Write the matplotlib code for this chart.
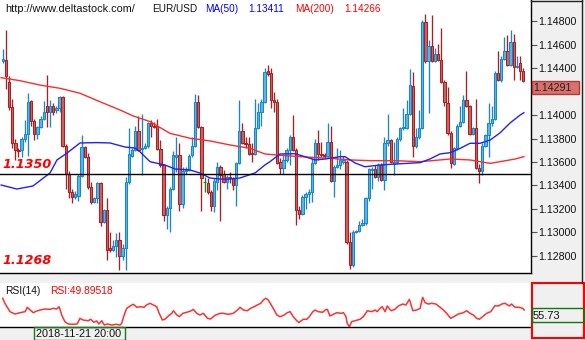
# -*- coding: utf-8 -*-
# EUR/USD H4 candles with MA(50), MA(200) and RSI(14) panel

import numpy as np
import matplotlib.pyplot as plt
import matplotlib.transforms as mtransforms
from matplotlib.patches import Rectangle
from matplotlib.lines import Line2D

plt.rcParams['font.family'] = ['Liberation Sans', 'DejaVu Sans']

# ------------------------------------------------------
# data

opens = [1.1446, 1.1447, 1.1428, 1.1407, 1.1376, 1.1370, 1.1370, 1.1380, 1.1384, 1.1412,
         1.1395, 1.1384, 1.1390, 1.1397, 1.1408, 1.1403, 1.1408, 1.1404, 1.1406, 1.1415,
         1.1374, 1.1350, 1.1334, 1.1330, 1.1331, 1.1348, 1.1373, 1.1364, 1.1339, 1.1326,
         1.1329, 1.1342, 1.1309, 1.1319, 1.1287, 1.1285, 1.1288, 1.1293, 1.1280, 1.1287,
         1.1343, 1.1365, 1.1370, 1.1386, 1.1371, 1.1372, 1.1374, 1.1393, 1.1391, 1.1391,
         1.1371, 1.1357, 1.1315, 1.1321, 1.1337, 1.1364, 1.1366, 1.1324, 1.1352, 1.1353,
         1.1366, 1.1374, 1.1411, 1.1390, 1.1343, 1.1342, 1.1334, 1.1322, 1.1343, 1.1356,
         1.1350, 1.1343, 1.1347, 1.1346, 1.1340, 1.1359, 1.1386, 1.1376, 1.1375, 1.1368,
         1.1367, 1.1389, 1.1403, 1.1411, 1.1438, 1.1436, 1.1413, 1.1411, 1.1360, 1.1355,
         1.1362, 1.1370, 1.1381, 1.1370, 1.1319, 1.1316, 1.1330, 1.1333, 1.1334, 1.1359,
         1.1376, 1.1367, 1.1366, 1.1365, 1.1377, 1.1344, 1.1356, 1.1357, 1.1360, 1.1360,
         1.1292, 1.1272, 1.1300, 1.1301, 1.1306, 1.1308, 1.1329, 1.1353, 1.1354, 1.1347,
         1.1357, 1.1345, 1.1376, 1.1379, 1.1358, 1.1360, 1.1380, 1.1389, 1.1389, 1.1401,
         1.1425, 1.1374, 1.1381, 1.1389, 1.1479, 1.1446, 1.1459, 1.1446, 1.1452, 1.1447,
         1.1428, 1.1410, 1.1385, 1.1358, 1.1372, 1.1391, 1.1394, 1.1413, 1.1408, 1.1384,
         1.1389, 1.1355, 1.1352, 1.1374, 1.1383, 1.1393, 1.1397, 1.1436, 1.1430, 1.1448,
         1.1455, 1.1443, 1.1462, 1.1441, 1.1444, 1.1438]

highs = [1.1456, 1.1473, 1.1433, 1.1414, 1.1380, 1.1372, 1.1381, 1.1396, 1.1419, 1.1413,
         1.1397, 1.1391, 1.1399, 1.1412, 1.1434, 1.1413, 1.1410, 1.1408, 1.1416, 1.1416,
         1.1375, 1.1352, 1.1337, 1.1335, 1.1350, 1.1383, 1.1374, 1.1368, 1.1343, 1.1330,
         1.1343, 1.1343, 1.1320, 1.1329, 1.1300, 1.1293, 1.1299, 1.1300, 1.1290, 1.1347,
         1.1389, 1.1372, 1.1391, 1.1399, 1.1401, 1.1376, 1.1394, 1.1396, 1.1394, 1.1397,
         1.1379, 1.1358, 1.1322, 1.1339, 1.1369, 1.1381, 1.1376, 1.1356, 1.1356, 1.1367,
         1.1381, 1.1418, 1.1417, 1.1391, 1.1347, 1.1346, 1.1336, 1.1346, 1.1360, 1.1357,
         1.1353, 1.1349, 1.1351, 1.1347, 1.1360, 1.1413, 1.1393, 1.1381, 1.1381, 1.1376,
         1.1414, 1.1410, 1.1414, 1.1440, 1.1443, 1.1440, 1.1420, 1.1414, 1.1363, 1.1367,
         1.1372, 1.1383, 1.1400, 1.1372, 1.1322, 1.1332, 1.1334, 1.1337, 1.1363, 1.1380,
         1.1387, 1.1377, 1.1368, 1.1393, 1.1391, 1.1357, 1.1372, 1.1370, 1.1365, 1.1362,
         1.1300, 1.1302, 1.1302, 1.1310, 1.1311, 1.1330, 1.1355, 1.1356, 1.1357, 1.1359,
         1.1359, 1.1381, 1.1401, 1.1380, 1.1377, 1.1381, 1.1390, 1.1406, 1.1413, 1.1439,
         1.1437, 1.1389, 1.1404, 1.1481, 1.1486, 1.1464, 1.1485, 1.1457, 1.1461, 1.1474,
         1.1430, 1.1424, 1.1386, 1.1373, 1.1392, 1.1408, 1.1417, 1.1438, 1.1409, 1.1390,
         1.1414, 1.1358, 1.1376, 1.1384, 1.1410, 1.1408, 1.1438, 1.1455, 1.1450, 1.1467,
         1.1468, 1.1473, 1.1469, 1.1450, 1.1450, 1.1440]

lows = [1.1444, 1.1422, 1.1404, 1.1372, 1.1362, 1.1364, 1.1364, 1.1377, 1.1365, 1.1391,
        1.1379, 1.1380, 1.1389, 1.1396, 1.1390, 1.1390, 1.1400, 1.1402, 1.1403, 1.1373,
        1.1337, 1.1329, 1.1325, 1.1328, 1.1327, 1.1347, 1.1363, 1.1337, 1.1324, 1.1325,
        1.1325, 1.1305, 1.1308, 1.1276, 1.1283, 1.1284, 1.1279, 1.1268, 1.1276, 1.1268,
        1.1341, 1.1364, 1.1369, 1.1369, 1.1349, 1.1371, 1.1372, 1.1381, 1.1389, 1.1370,
        1.1356, 1.1310, 1.1303, 1.1300, 1.1336, 1.1351, 1.1318, 1.1321, 1.1350, 1.1352,
        1.1364, 1.1373, 1.1389, 1.1318, 1.1334, 1.1333, 1.1318, 1.1317, 1.1336, 1.1310,
        1.1342, 1.1337, 1.1342, 1.1336, 1.1322, 1.1358, 1.1375, 1.1372, 1.1366, 1.1360,
        1.1366, 1.1388, 1.1391, 1.1410, 1.1433, 1.1406, 1.1403, 1.1358, 1.1350, 1.1350,
        1.1360, 1.1357, 1.1369, 1.1306, 1.1311, 1.1315, 1.1320, 1.1325, 1.1326, 1.1358,
        1.1362, 1.1364, 1.1363, 1.1364, 1.1343, 1.1330, 1.1355, 1.1354, 1.1358, 1.1290,
        1.1269, 1.1270, 1.1299, 1.1300, 1.1305, 1.1306, 1.1327, 1.1337, 1.1346, 1.1344,
        1.1344, 1.1336, 1.1374, 1.1359, 1.1349, 1.1358, 1.1378, 1.1387, 1.1388, 1.1400,
        1.1364, 1.1372, 1.1380, 1.1388, 1.1444, 1.1402, 1.1445, 1.1445, 1.1446, 1.1427,
        1.1408, 1.1383, 1.1355, 1.1357, 1.1370, 1.1390, 1.1393, 1.1407, 1.1383, 1.1383,
        1.1354, 1.1342, 1.1349, 1.1373, 1.1364, 1.1391, 1.1396, 1.1429, 1.1428, 1.1447,
        1.1442, 1.1442, 1.1430, 1.1440, 1.1430, 1.1428]

closes = [1.1448, 1.1433, 1.1407, 1.1376, 1.1370, 1.1369, 1.1380, 1.1384, 1.1411, 1.1395,
          1.1384, 1.1390, 1.1397, 1.1403, 1.1403, 1.1408, 1.1403, 1.1406, 1.1415, 1.1374,
          1.1350, 1.1334, 1.1330, 1.1333, 1.1348, 1.1373, 1.1364, 1.1339, 1.1326, 1.1329,
          1.1342, 1.1309, 1.1319, 1.1285, 1.1285, 1.1288, 1.1293, 1.1280, 1.1287, 1.1343,
          1.1367, 1.1370, 1.1386, 1.1370, 1.1372, 1.1374, 1.1393, 1.1391, 1.1390, 1.1371,
          1.1357, 1.1315, 1.1321, 1.1337, 1.1366, 1.1366, 1.1324, 1.1352, 1.1354, 1.1365,
          1.1374, 1.1411, 1.1390, 1.1346, 1.1343, 1.1334, 1.1322, 1.1344, 1.1356, 1.1349,
          1.1343, 1.1347, 1.1346, 1.1340, 1.1359, 1.1386, 1.1376, 1.1375, 1.1367, 1.1367,
          1.1389, 1.1403, 1.1411, 1.1437, 1.1435, 1.1413, 1.1411, 1.1359, 1.1355, 1.1362,
          1.1370, 1.1381, 1.1370, 1.1319, 1.1316, 1.1330, 1.1333, 1.1334, 1.1359, 1.1376,
          1.1367, 1.1366, 1.1365, 1.1377, 1.1344, 1.1356, 1.1357, 1.1362, 1.1362, 1.1292,
          1.1272, 1.1300, 1.1301, 1.1306, 1.1308, 1.1329, 1.1354, 1.1354, 1.1347, 1.1357,
          1.1345, 1.1376, 1.1379, 1.1360, 1.1360, 1.1380, 1.1389, 1.1390, 1.1401, 1.1426,
          1.1374, 1.1381, 1.1389, 1.1479, 1.1446, 1.1459, 1.1446, 1.1452, 1.1447, 1.1428,
          1.1411, 1.1385, 1.1359, 1.1372, 1.1391, 1.1394, 1.1413, 1.1408, 1.1384, 1.1389,
          1.1355, 1.1352, 1.1374, 1.1383, 1.1393, 1.1397, 1.1436, 1.1430, 1.1448, 1.1455,
          1.1443, 1.1462, 1.1441, 1.1442, 1.1438, 1.14291]

# moving averages, read at bar positions
ma50_pos = [-0.5, 4.5, 9.6, 15.0, 17.2, 20.4, 24.5, 29.9, 34.0, 38.8, 41.9, 43.5, 46.7,
            51.4, 54.6, 59.4, 62.5, 65.7, 68.9, 72.0, 75.2, 80.0, 83.1, 84.7, 87.9, 92.6,
            95.8, 99.0, 102.2, 106.9, 108.5, 111.7, 114.8, 119.6, 124.3, 132.3, 135.4,
            138.6, 141.8, 145.0, 148.1, 151.3, 154.5, 157.6, 160.8, 164.0, 165.2]
ma50_val = [1.13403, 1.13369, 1.13395, 1.13506, 1.13617, 1.13676, 1.13762, 1.13765,
            1.13762, 1.13727, 1.13719, 1.13687, 1.13602, 1.13574, 1.13540, 1.13531,
            1.13506, 1.13463, 1.13454, 1.13454, 1.13463, 1.13506, 1.13574, 1.13602,
            1.13668, 1.13670, 1.13645, 1.13617, 1.13625, 1.13645, 1.13645, 1.13591,
            1.13559, 1.13574, 1.13582, 1.13594, 1.13625, 1.13668, 1.13679, 1.13716,
            1.13759, 1.13759, 1.13787, 1.13847, 1.13932, 1.14000, 1.14020]

ma200_pos = [-0.5, 5.5, 11.8, 18.2, 24.5, 30.8, 37.2, 41.3, 46.7, 53.0, 59.4, 65.7, 72.0,
             78.4, 83.1, 87.9, 94.2, 103.7, 110.1, 116.4, 124.3, 132.3, 138.6, 141.8,
             148.1, 154.5, 157.6, 162.4, 165.2]
ma200_val = [1.14319, 1.14293, 1.14256, 1.14228, 1.14186, 1.14114, 1.14043, 1.13993,
             1.13944, 1.13844, 1.13802, 1.13779, 1.13745, 1.13716, 1.13668, 1.13657,
             1.13645, 1.13631, 1.13617, 1.13611, 1.13611, 1.13602, 1.13617, 1.13625,
             1.13617, 1.13588, 1.13602, 1.13625, 1.13645]

# RSI(14), read at bar positions
rsi_pos = [0, 0.7, 2.3, 3.9, 5.5, 7.1, 7.8, 8.7, 9.7, 10.8, 11.8, 13.4, 15.0, 16.0, 17.1,
           17.9, 18.7, 19.7, 20.8, 22.4, 23.6, 24.5, 25.5, 27.1, 27.9, 28.9, 29.8, 30.5,
           31.4, 32.2, 33.2, 34.6, 35.9, 37.2, 37.7, 38.5, 39.3, 40.4, 41.4, 42.5, 43.5,
           44.8, 45.6, 46.7, 47.7, 48.8, 49.6, 50.6, 51.4, 52.5, 53.6, 54.1, 55.2, 56.0,
           57.1, 58.3, 59.6, 60.4, 61.5, 62.5, 63.6, 64.9, 65.9, 67.3, 68.9, 69.9, 71.5,
           73.1, 74.4, 75.2, 76.3, 77.5, 78.6, 79.7, 80.7, 81.8, 82.6, 83.4, 84.2, 85.3,
           86.9, 87.9, 89.2, 90.2, 91.1, 92.1, 93.2, 93.9, 94.2, 95.3, 96.4, 97.2, 98.3,
           99.0, 100.0, 101.4, 102.2, 102.9, 103.7, 104.8, 105.9, 107.2, 108.0, 108.8,
           109.2, 109.9, 110.6, 111.7, 113.3, 114.3, 115.6, 117.0, 118.0, 118.7, 119.6,
           120.3, 121.2, 121.9, 123.1, 124.3, 125.4, 126.8, 127.8, 128.9, 130.0, 131.2,
           132.3, 133.1, 133.9, 134.9, 136.0, 137.3, 138.4, 139.7, 140.7, 142.0, 143.0,
           144.4, 146.0, 147.1, 148.1, 149.2, 150.2, 151.1, 152.1, 153.4, 154.7, 156.0,
           157.1, 158.2, 159.2, 160.6, 161.3, 162.4, 163.7, 164.8, 165.3]
rsi_val = [71.5, 63.6, 50.4, 46.7, 48.8, 50.4, 57.3, 53.0, 48.8, 51.5, 53.0, 54.6, 54.1,
           55.7, 54.6, 58.3, 45.1, 34.6, 30.9, 30.5, 30.9, 39.9, 37.2, 36.1, 38.4, 33.6,
           35.7, 30.9, 36.1, 29.3, 30.9, 29.3, 30.5, 29.3, 32.0, 45.1, 55.7, 59.4, 62.1,
           57.3, 58.3, 57.3, 61.0, 63.6, 61.0, 58.3, 47.8, 37.2, 38.4, 43.6, 47.8, 51.9,
           45.1, 42.5, 47.8, 49.4, 51.5, 54.1, 47.8, 45.1, 47.8, 39.9, 38.8, 44.7, 47.8,
           47.8, 46.2, 47.8, 53.0, 57.3, 53.0, 51.9, 55.7, 58.3, 61.0, 63.6, 68.8, 71.5,
           68.8, 59.4, 45.1, 42.5, 45.1, 48.8, 50.4, 42.5, 36.1, 33.0, 34.6, 38.4, 38.4,
           42.5, 50.4, 53.0, 50.4, 49.4, 53.0, 54.1, 43.6, 46.2, 48.8, 47.8, 48.8, 42.5,
           32.0, 26.6, 34.6, 36.1, 38.4, 42.5, 51.9, 50.4, 53.0, 50.4, 55.7, 58.3, 50.4,
           59.4, 51.9, 54.1, 59.4, 62.5, 61.0, 69.9, 51.9, 53.0, 55.7, 73.1, 64.6, 62.5,
           63.6, 62.5, 58.3, 53.0, 47.8, 39.9, 42.5, 46.7, 48.8, 51.9, 47.8, 45.1, 39.9,
           38.4, 42.5, 47.8, 50.4, 59.8, 59.4, 62.5, 63.6, 59.4, 62.5, 57.3, 57.3, 55.7,
           53.0]

# 1.14200 sits under the current price box, so it is not listed
price_ticks = [1.128, 1.130, 1.132, 1.134, 1.136, 1.138, 1.140, 1.144, 1.146, 1.148]
level_line = 1.1350
level_low = 1.1268
cursor_time = '2018-11-21 20:00'
cursor_rsi = '55.73'

# ------------------------------------------------------
# figure layout (pixel helpers)
W, H = 585, 340

def fx(px):
    return px / W

def fy(py):
    return 1 - py / H

fig = plt.figure(figsize=(5.85, 3.4), dpi=100, facecolor='#f0f0f0')

ax = fig.add_axes([0, fy(272.5), fx(531), 272.5 / H])
ax.set_facecolor('white')

o = np.array(opens)
h = np.array(highs)
l = np.array(lows)
c = np.array(closes)
x = np.arange(len(c))

# candle colours: up blue, down red, doji green
edge = np.where(c > o, '#1a86cc', np.where(c < o, '#a82020', '#108a10'))
fill = np.where(c > o, '#56b6ea', np.where(c < o, '#d45e5e', '#108a10'))

ax.vlines(x, l, h, colors=edge, linewidth=0.95, zorder=2)
ax.bar(x, np.abs(c - o), bottom=np.minimum(o, c), width=0.74,
       color=fill, edgecolor=edge, linewidth=0.75, zorder=3)

# moving averages and level line
ax.plot(ma200_pos, ma200_val, color='#ff2a2a', linewidth=1.0, zorder=4)
ax.plot(ma50_pos, ma50_val, color='#2020ff', linewidth=1.0, zorder=4)
ax.axhline(level_line, color='black', linewidth=1.0, zorder=4)

ax.set_xlim(-0.86, 167.45)
ax.set_ylim(1.126567, 1.149817)
ax.set_xticks([])
ax.yaxis.tick_right()
ax.set_yticks(price_ticks)
ax.set_yticklabels(['%.5f' % p for p in price_ticks])
ax.tick_params(axis='y', direction='out', length=4, width=0.8, color='#555555',
               pad=1.5, labelsize=7.7, labelcolor='#111111')
for s in ['left', 'top']:
    ax.spines[s].set_visible(False)
for s in ['right', 'bottom']:
    ax.spines[s].set_color('black')
    ax.spines[s].set_linewidth(1.0)

# left red level labels
trans = mtransforms.blended_transform_factory(fig.transFigure, ax.transData)
for lev in [level_line, level_low]:
    ax.text(fx(2.5), lev + 0.00045, '%.4f' % lev, transform=trans, color='#ff0000',
            fontsize=9.2, fontweight='bold', fontstyle='italic', family='DejaVu Sans',
            va='baseline', ha='left', zorder=6)

# current price box
last = closes[-1]
box_h = 0.001135
ax.add_patch(Rectangle((fx(531.5), last - box_h), fx(579) - fx(531.5), box_h,
                       transform=trans, facecolor='#d9706b', edgecolor='#b03a3a',
                       linewidth=1.0, clip_on=False, zorder=5))
ax.text(fx(533.5), last - box_h / 2, '%.5f' % last, transform=trans, fontsize=7.7,
        color='#222222', va='center', ha='left', clip_on=False, zorder=6)

# right panel frame
fig.add_artist(Line2D([fx(581.5), fx(581.5)], [fy(0), fy(283)], color='#222222', linewidth=1.0))
fig.add_artist(Line2D([fx(531), fx(582)], [fy(0.5), fy(0.5)], color='#222222', linewidth=1.0))

# top header texts
fig.text(fx(5), fy(11.7), 'http://www.deltastock.com/', fontsize=7.8, va='baseline', color='#111111')
fig.text(fx(152.5), fy(11.7), 'EUR/USD', fontsize=7.2, va='baseline', color='#111111')
fig.text(fx(205), fy(11.7), 'MA(50)', fontsize=7.2, va='baseline', color='#0000ff')
fig.text(fx(248.3), fy(11.7), '1.13411', fontsize=7.2, va='baseline', color='#0000ff')
fig.text(fx(295), fy(11.7), 'MA(200)', fontsize=7.2, va='baseline', color='#ff0000')
fig.text(fx(344), fy(11.7), '1.14266', fontsize=7.2, va='baseline', color='#ff0000')

# ------------------------------------------------------
# RSI panel
rax = fig.add_axes([0, fy(327), fx(531), (327 - 282.5) / H])
rax.set_facecolor('white')
rax.plot(rsi_pos, rsi_val, color='#ff3030', linewidth=1.1)
rax.set_xlim(-0.86, 167.45)
rax.set_ylim(26.18, 96.49)
rax.set_xticks([])
rax.set_yticks([])
for s in ['left', 'top', 'right']:
    rax.spines[s].set_visible(False)
rax.spines['bottom'].set_color('black')
rax.spines['bottom'].set_linewidth(1.0)

fig.text(fx(5), fy(294.5), 'RSI(14)', fontsize=7.4, va='baseline', color='#111111')
fig.text(fx(50), fy(294.5), 'RSI:49.89518', fontsize=7.4, va='baseline', color='#ff0000')

# active window box and cursor labels
fig.add_artist(Rectangle((fx(532), fy(338.3)), fx(584.3) - fx(532), (338.3 - 283.3) / H,
                         transform=fig.transFigure, fill=False, edgecolor='#ff0000',
                         linewidth=1.5))
fig.add_artist(Rectangle((fx(531.7), fy(321.7)), fx(584.3) - fx(531.7), 13.4 / H,
                         transform=fig.transFigure, fill=False, edgecolor='#0a7a0a',
                         linewidth=1.0))
fig.text(fx(533), fy(319), cursor_rsi, fontsize=8, va='baseline', color='#111111')

fig.add_artist(Rectangle((fx(34.3), fy(339.5)), fx(125.3) - fx(34.3), (339.5 - 327.3) / H,
                         transform=fig.transFigure, fill=False, edgecolor='#1a7a1a',
                         linewidth=1.0))
fig.text(fx(36), fy(337.3), cursor_time, fontsize=7.8, va='baseline', color='#111111')

fig.savefig('out.png', dpi=100, facecolor=fig.get_facecolor())
